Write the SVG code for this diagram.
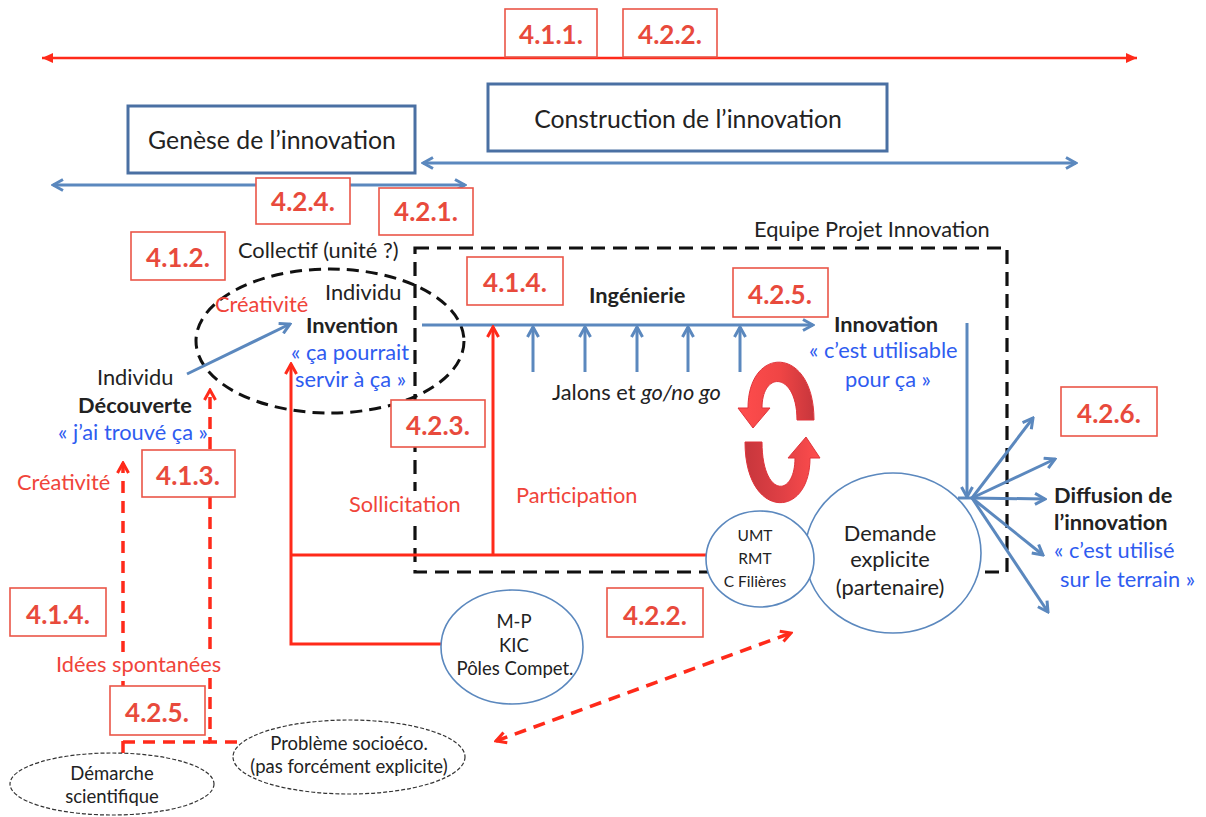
<svg xmlns="http://www.w3.org/2000/svg" width="1206" height="817" viewBox="0 0 1206 817">
<style>
text{font-family:Lato,"Open Sans","Liberation Sans",sans-serif;fill:#222}
.lbl rect{fill:#fff;stroke:#ea5548;stroke-width:1.6}
.lbl text{font-size:26px;font-weight:bold;fill:#e84a3c;text-anchor:middle}
.t18{font-size:21.8px}
.b{font-weight:bold}
.red{fill:#f0443a}
.blue{fill:#2f5cf0}
.mid{text-anchor:middle}
.bl{stroke:#5b88be;stroke-width:3;fill:none}
.rd{stroke:#ff2a1a;stroke-width:3;fill:none}
.rdd{stroke:#ff2a1a;stroke-width:3.5;fill:none;stroke-dasharray:12 8}
.node ellipse{fill:#fff;stroke:#5b88be;stroke-width:1.6}
.pe ellipse{fill:#fff;stroke:#333;stroke-width:1.2;stroke-dasharray:4 2}
</style>
<defs>
<marker id="bch" viewBox="0 0 14 14" refX="12" refY="7" markerWidth="14" markerHeight="14" orient="auto-start-reverse" markerUnits="userSpaceOnUse"><path d="M2 1.5 L12 7 L2 12.5" fill="none" stroke="#5b88be" stroke-width="3" stroke-linejoin="miter"/></marker>
<marker id="rch" viewBox="0 0 14 14" refX="12" refY="7" markerWidth="14" markerHeight="14" orient="auto-start-reverse" markerUnits="userSpaceOnUse"><path d="M2 1.5 L12 7 L2 12.5" fill="none" stroke="#ff2a1a" stroke-width="3"/></marker>
<marker id="rtri" viewBox="0 0 12 12" refX="11" refY="6" markerWidth="12" markerHeight="12" orient="auto-start-reverse" markerUnits="userSpaceOnUse"><path d="M0 1 L11 6 L0 11 Z" fill="#ff2a1a"/></marker>
<linearGradient id="gUp" x1="0" y1="0" x2="1" y2="0"><stop offset="0" stop-color="#ff4d4d"/><stop offset="0.55" stop-color="#f04545"/><stop offset="1" stop-color="#c7363c"/></linearGradient>
<linearGradient id="gDn" x1="0" y1="0" x2="1" y2="0"><stop offset="0" stop-color="#c7363c"/><stop offset="0.5" stop-color="#e04045"/><stop offset="1" stop-color="#ff4d4d"/></linearGradient>
</defs>

<!-- background frames -->
<g id="equipe-projet">
<rect x="415" y="248" width="592" height="324" fill="none" stroke="#111" stroke-width="3.2" stroke-dasharray="14 8"/>
<text x="754" y="237" class="t18">Equipe Projet Innovation</text>
</g>
<g id="collectif">
<ellipse cx="330" cy="341" rx="134" ry="72" fill="none" stroke="#111" stroke-width="3" stroke-dasharray="12 7"/>
<text x="238" y="258" class="t18">Collectif (unité ?)</text>
</g>

<!-- connectors -->
<g id="connectors">
<line x1="42" y1="58" x2="1137" y2="58" stroke="#ff2a1a" stroke-width="2.5" marker-start="url(#rtri)" marker-end="url(#rtri)"/>
<line x1="423" y1="163" x2="1076" y2="163" class="bl" marker-start="url(#bch)" marker-end="url(#bch)"/>
<line x1="53" y1="185" x2="465" y2="185" class="bl" marker-start="url(#bch)" marker-end="url(#bch)"/>
<line x1="187" y1="374" x2="290" y2="324" class="bl" marker-end="url(#bch)"/>
<line x1="422" y1="325" x2="813" y2="325" class="bl" marker-end="url(#bch)"/>
<line x1="533" y1="372" x2="533" y2="327" class="bl" marker-end="url(#bch)"/>
<line x1="585" y1="372" x2="585" y2="327" class="bl" marker-end="url(#bch)"/>
<line x1="637" y1="372" x2="637" y2="327" class="bl" marker-end="url(#bch)"/>
<line x1="688" y1="372" x2="688" y2="327" class="bl" marker-end="url(#bch)"/>
<line x1="740" y1="372" x2="740" y2="327" class="bl" marker-end="url(#bch)"/>
<line x1="967" y1="323" x2="967" y2="497" class="bl" stroke-width="2.5" marker-end="url(#bch)"/>
<g class="bl" stroke-width="2.5">
<line x1="958" y1="498" x2="972" y2="498"/>
<line x1="972" y1="498" x2="1033" y2="418" marker-end="url(#bch)"/>
<line x1="972" y1="498" x2="1055" y2="459" marker-end="url(#bch)"/>
<line x1="972" y1="498" x2="1045" y2="499" marker-end="url(#bch)"/>
<line x1="972" y1="498" x2="1043" y2="555" marker-end="url(#bch)"/>
<line x1="972" y1="498" x2="1048" y2="612" marker-end="url(#bch)"/>
</g>
<!-- red solid -->
<polyline points="441,644 291,644 291,364" class="rd" marker-end="url(#rch)"/>
<line x1="291" y1="555" x2="710" y2="555" class="rd"/>
<line x1="493" y1="555" x2="493" y2="327" class="rd" marker-end="url(#rch)"/>
<!-- red dashed -->
<line x1="123" y1="753" x2="123" y2="463" class="rdd" marker-end="url(#rch)"/>
<polyline points="237,742 210,742 210,390" class="rdd" marker-end="url(#rch)"/>
<line x1="123" y1="742" x2="210" y2="742" class="rdd"/>
<line x1="496" y1="741" x2="791" y2="633" class="rdd" marker-start="url(#rch)" marker-end="url(#rch)"/>
</g>

<!-- circular arrows -->
<g id="cycle" stroke="#e0333a" stroke-width="1">
<path d="M814 420 C814 345 748 345 748 408 L738 408 L753 428 L770 408 L762 408 C762 370 797 372 797 420 Z" fill="url(#gUp)"/>
<path d="M745 442 C745 520 810 520 810 458 L820 458 L806 437 L788 458 L795 458 C795 498 762 498 762 442 Z" fill="url(#gDn)"/>
</g>

<!-- top section -->
<g id="genese">
<rect x="128" y="106" width="287" height="67" fill="#fff" stroke="#4a70a3" stroke-width="3"/>
<text x="272" y="149" class="mid" font-size="24.8">Genèse de l’innovation</text>
</g>
<g id="construction">
<rect x="488" y="84" width="399" height="67" fill="#fff" stroke="#4a70a3" stroke-width="3"/>
<text x="688" y="128" class="mid" font-size="24.8">Construction de l’innovation</text>
</g>

<!-- texts -->
<g id="decouverte">
<text x="97" y="385" class="t18">Individu</text>
<text x="135" y="413" class="t18 b mid">Découverte</text>
<text x="58" y="440" class="t18 blue">« j’ai trouvé ça »</text>
</g>
<g id="creativite-left"><text x="17" y="490" class="t18 red">Créativité</text></g>
<g id="idees">
<rect x="54" y="652" width="170" height="26" fill="#fff"/>
<text x="56" y="672" class="red" font-size="21.8">Idées spontanées</text>
</g>
<g id="invention">
<text x="215" y="312" class="t18 red">Créativité</text>
<text x="325" y="300" class="t18">Individu</text>
<text x="306" y="333" class="t18 b">Invention</text>
<text x="291" y="360" class="t18 blue">« ça pourrait</text>
<text x="295" y="387" class="t18 blue">servir à ça »</text>
</g>
<g id="ingenierie">
<text x="589" y="303" class="t18 b">Ingénierie</text>
<text x="552" y="400" class="t18">Jalons et <tspan font-style="italic">go/no go</tspan></text>
</g>
<g id="sollicitation">
<rect x="347" y="491" width="114" height="28" fill="#fff"/>
<text x="349" y="512" class="t18 red">Sollicitation</text>
</g>
<g id="participation"><text x="516" y="503" class="t18 red">Participation</text></g>
<g id="innovation">
<text x="834" y="332" class="t18 b">Innovation</text>
<text x="809" y="358" class="t18 blue">« c’est utilisable</text>
<text x="845" y="387" class="t18 blue">pour ça »</text>
</g>
<g id="diffusion">
<text x="1054" y="503" class="t18 b">Diffusion de</text>
<text x="1054" y="530" class="t18 b">l’innovation</text>
<text x="1054" y="558" class="t18 blue">« c’est utilisé</text>
<text x="1060" y="587" class="t18 blue">sur le terrain »</text>
</g>

<!-- nodes -->
<g id="demande" class="node">
<ellipse cx="893" cy="553" rx="88" ry="80"/>
<text x="890" y="541" class="mid" font-size="21.8">Demande</text>
<text x="890" y="567" class="mid" font-size="21.8">explicite</text>
<text x="890" y="595" class="mid" font-size="21.8">(partenaire)</text>
</g>
<g id="umt" class="node">
<ellipse cx="760" cy="559" rx="54" ry="48"/>
<text x="755" y="541" class="mid" font-size="15.5">UMT</text>
<text x="755" y="564" class="mid" font-size="15.5">RMT</text>
<text x="755" y="587" class="mid" font-size="15.5">C Filières</text>
</g>
<g id="mp" class="node">
<ellipse cx="512" cy="647" rx="71" ry="57"/>
<text x="514" y="628" class="mid" font-size="18.5">M-P</text>
<text x="514" y="652" class="mid" font-size="18.5">KIC</text>
<text x="515" y="675" class="mid" font-size="18.5">Pôles Compet.</text>
</g>
<g id="demarche" class="pe">
<ellipse cx="112" cy="784" rx="102" ry="31"/>
<text x="112" y="780" class="mid" font-size="18.5">Démarche</text>
<text x="112" y="803" class="mid" font-size="18.5">scientifique</text>
</g>
<g id="probleme" class="pe">
<ellipse cx="349" cy="757" rx="116" ry="37"/>
<text x="349" y="750" class="mid" font-size="18.5">Problème socioéco.</text>
<text x="349" y="773" class="mid" font-size="18.5">(pas forcément explicite)</text>
</g>

<!-- section labels -->
<g id="l411" class="lbl"><rect x="505" y="9" width="92" height="48"/><text x="551" y="44">4.1.1.</text></g>
<g id="l422a" class="lbl"><rect x="623" y="9" width="94" height="48"/><text x="670" y="44">4.2.2.</text></g>
<g id="l424" class="lbl"><rect x="256" y="178" width="94" height="46"/><text x="303" y="211">4.2.4.</text></g>
<g id="l421" class="lbl"><rect x="379" y="188" width="94" height="47"/><text x="426" y="221">4.2.1.</text></g>
<g id="l412" class="lbl"><rect x="131" y="232" width="94" height="48"/><text x="178" y="267">4.1.2.</text></g>
<g id="l414a" class="lbl"><rect x="467" y="257" width="96" height="48"/><text x="515" y="292">4.1.4.</text></g>
<g id="l425a" class="lbl"><rect x="733" y="268" width="95" height="49"/><text x="780" y="304">4.2.5.</text></g>
<g id="l423" class="lbl"><rect x="391" y="400" width="94" height="47"/><text x="438" y="435">4.2.3.</text></g>
<g id="l426" class="lbl"><rect x="1061" y="387" width="96" height="49"/><text x="1109" y="423">4.2.6.</text></g>
<g id="l413" class="lbl"><rect x="142" y="450" width="93" height="47"/><text x="188" y="485">4.1.3.</text></g>
<g id="l414b" class="lbl"><rect x="10" y="588" width="96" height="48"/><text x="58" y="624">4.1.4.</text></g>
<g id="l425b" class="lbl"><rect x="110" y="686" width="95" height="49"/><text x="157" y="722">4.2.5.</text></g>
<g id="l422b" class="lbl"><rect x="607" y="588" width="96" height="49"/><text x="655" y="625">4.2.2.</text></g>
</svg>
